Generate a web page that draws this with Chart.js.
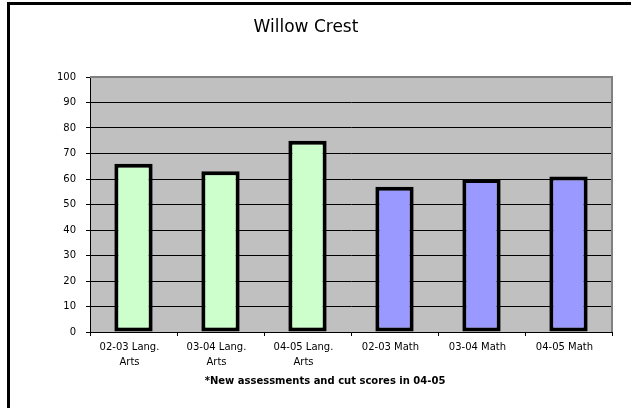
<!DOCTYPE html>
<html>
<head>
<meta charset="utf-8">
<script src="https://cdn.jsdelivr.net/npm/chart.js@4/dist/chart.umd.min.js"></script>
<style>
  html, body { margin: 0; padding: 0; background: #fff; }
  #chart { display: block; }
</style>
</head>
<body>
<canvas id="chart" width="631" height="408"></canvas>
<script>
/* ---------- Data ---------- */
const CATEGORIES = [
  ["02-03 Lang.", "Arts"],
  ["03-04 Lang.", "Arts"],
  ["04-05 Lang.", "Arts"],
  "02-03 Math",
  "03-04 Math",
  "04-05 Math"
];
const SCORES = [66, 63, 75, 57, 60, 61];
const Y_MIN = 0, Y_MAX = 100, Y_STEP = 10;

const TITLE = "Willow Crest";
const FOOTNOTE = "*New assessments and cut scores in 04-05";

const LANG_COLOR = "#CCFFCC";
const MATH_COLOR = "#9999FF";
const FONT = "'DejaVu Sans', Verdana, sans-serif";

function barColor(label) {
  const txt = Array.isArray(label) ? label.join(" ") : label;
  return txt.includes("Math") ? MATH_COLOR : LANG_COLOR;
}

/* ---------- Decorations: background, plot fill, frame, footnote ---------- */
const decor = {
  id: "decor",
  beforeDraw(chart) {
    const {ctx, chartArea: a} = chart;
    ctx.save();
    ctx.fillStyle = "#fff";
    ctx.fillRect(0, 0, chart.width, chart.height);
    ctx.fillStyle = "#C0C0C0";
    ctx.fillRect(a.left, a.top, a.right - a.left, a.bottom - a.top);
    ctx.restore();
  },
  beforeDatasetsDraw(chart) {
    const {ctx, chartArea: a} = chart;
    ctx.save();
    ctx.strokeStyle = "#808080";
    ctx.lineWidth = 2;
    ctx.beginPath();
    ctx.moveTo(a.left, a.top);
    ctx.lineTo(a.right, a.top);
    ctx.lineTo(a.right, a.bottom);
    ctx.stroke();
    ctx.restore();
  },
  afterDraw(chart) {
    const {ctx} = chart;
    ctx.save();
    // outer frame (left + top only)
    ctx.fillStyle = "#000";
    ctx.fillRect(7, 2, 3, chart.height - 2);
    ctx.fillRect(7, 2, chart.width - 7, 3);
    // footnote
    ctx.font = "bold 10px " + FONT;
    ctx.textAlign = "center";
    ctx.textBaseline = "middle";
    ctx.fillText(FOOTNOTE, 325, 381);
    ctx.restore();
  }
};

new Chart(document.getElementById("chart"), {
  type: "bar",
  data: {
    labels: CATEGORIES,
    datasets: [{
      data: SCORES,
      backgroundColor: CATEGORIES.map(barColor),
      borderColor: "#000",
      borderWidth: 4,
      borderSkipped: false,
      barPercentage: 0.44,
      categoryPercentage: 1
    }]
  },
  options: {
    responsive: false,
    animation: false,
    devicePixelRatio: 1,
    layout: { padding: { left: 0, right: 19, top: 0, bottom: 0 } },
    plugins: {
      legend: { display: false },
      tooltip: { enabled: false },
      title: {
        display: true,
        text: TITLE,
        color: "#000",
        font: { family: FONT, size: 17, weight: "normal" },
        padding: { top: 17, bottom: 39.6 }
      }
    },
    scales: {
      x: {
        afterFit(scale) { scale.height = 76; },
        grid: {
          display: true,
          offset: true,
          drawOnChartArea: false,
          drawTicks: true,
          tickLength: 4,
          color: "#000",
          lineWidth: 1
        },
        border: { display: true, color: "#000", width: 1 },
        ticks: {
          color: "#000",
          font: { family: FONT, size: 10, lineHeight: 1.5 },
          padding: 4,
          maxRotation: 0,
          autoSkip: false,
          labelOffset: -4
        }
      },
      y: {
        min: Y_MIN,
        max: Y_MAX,
        afterFit(scale) { scale.width = 90; },
        grid: {
          color: ctx => (ctx.tick && ctx.tick.value === Y_MAX) ? "rgba(0,0,0,0)" : "#000",
          tickColor: "#000",
          tickLength: 4,
          lineWidth: 1
        },
        border: { display: true, color: "#000", width: 1 },
        ticks: {
          stepSize: Y_STEP,
          color: "#000",
          font: { family: FONT, size: 10 },
          padding: 10
        }
      }
    }
  },
  plugins: [decor]
});
</script>
</body>
</html>
